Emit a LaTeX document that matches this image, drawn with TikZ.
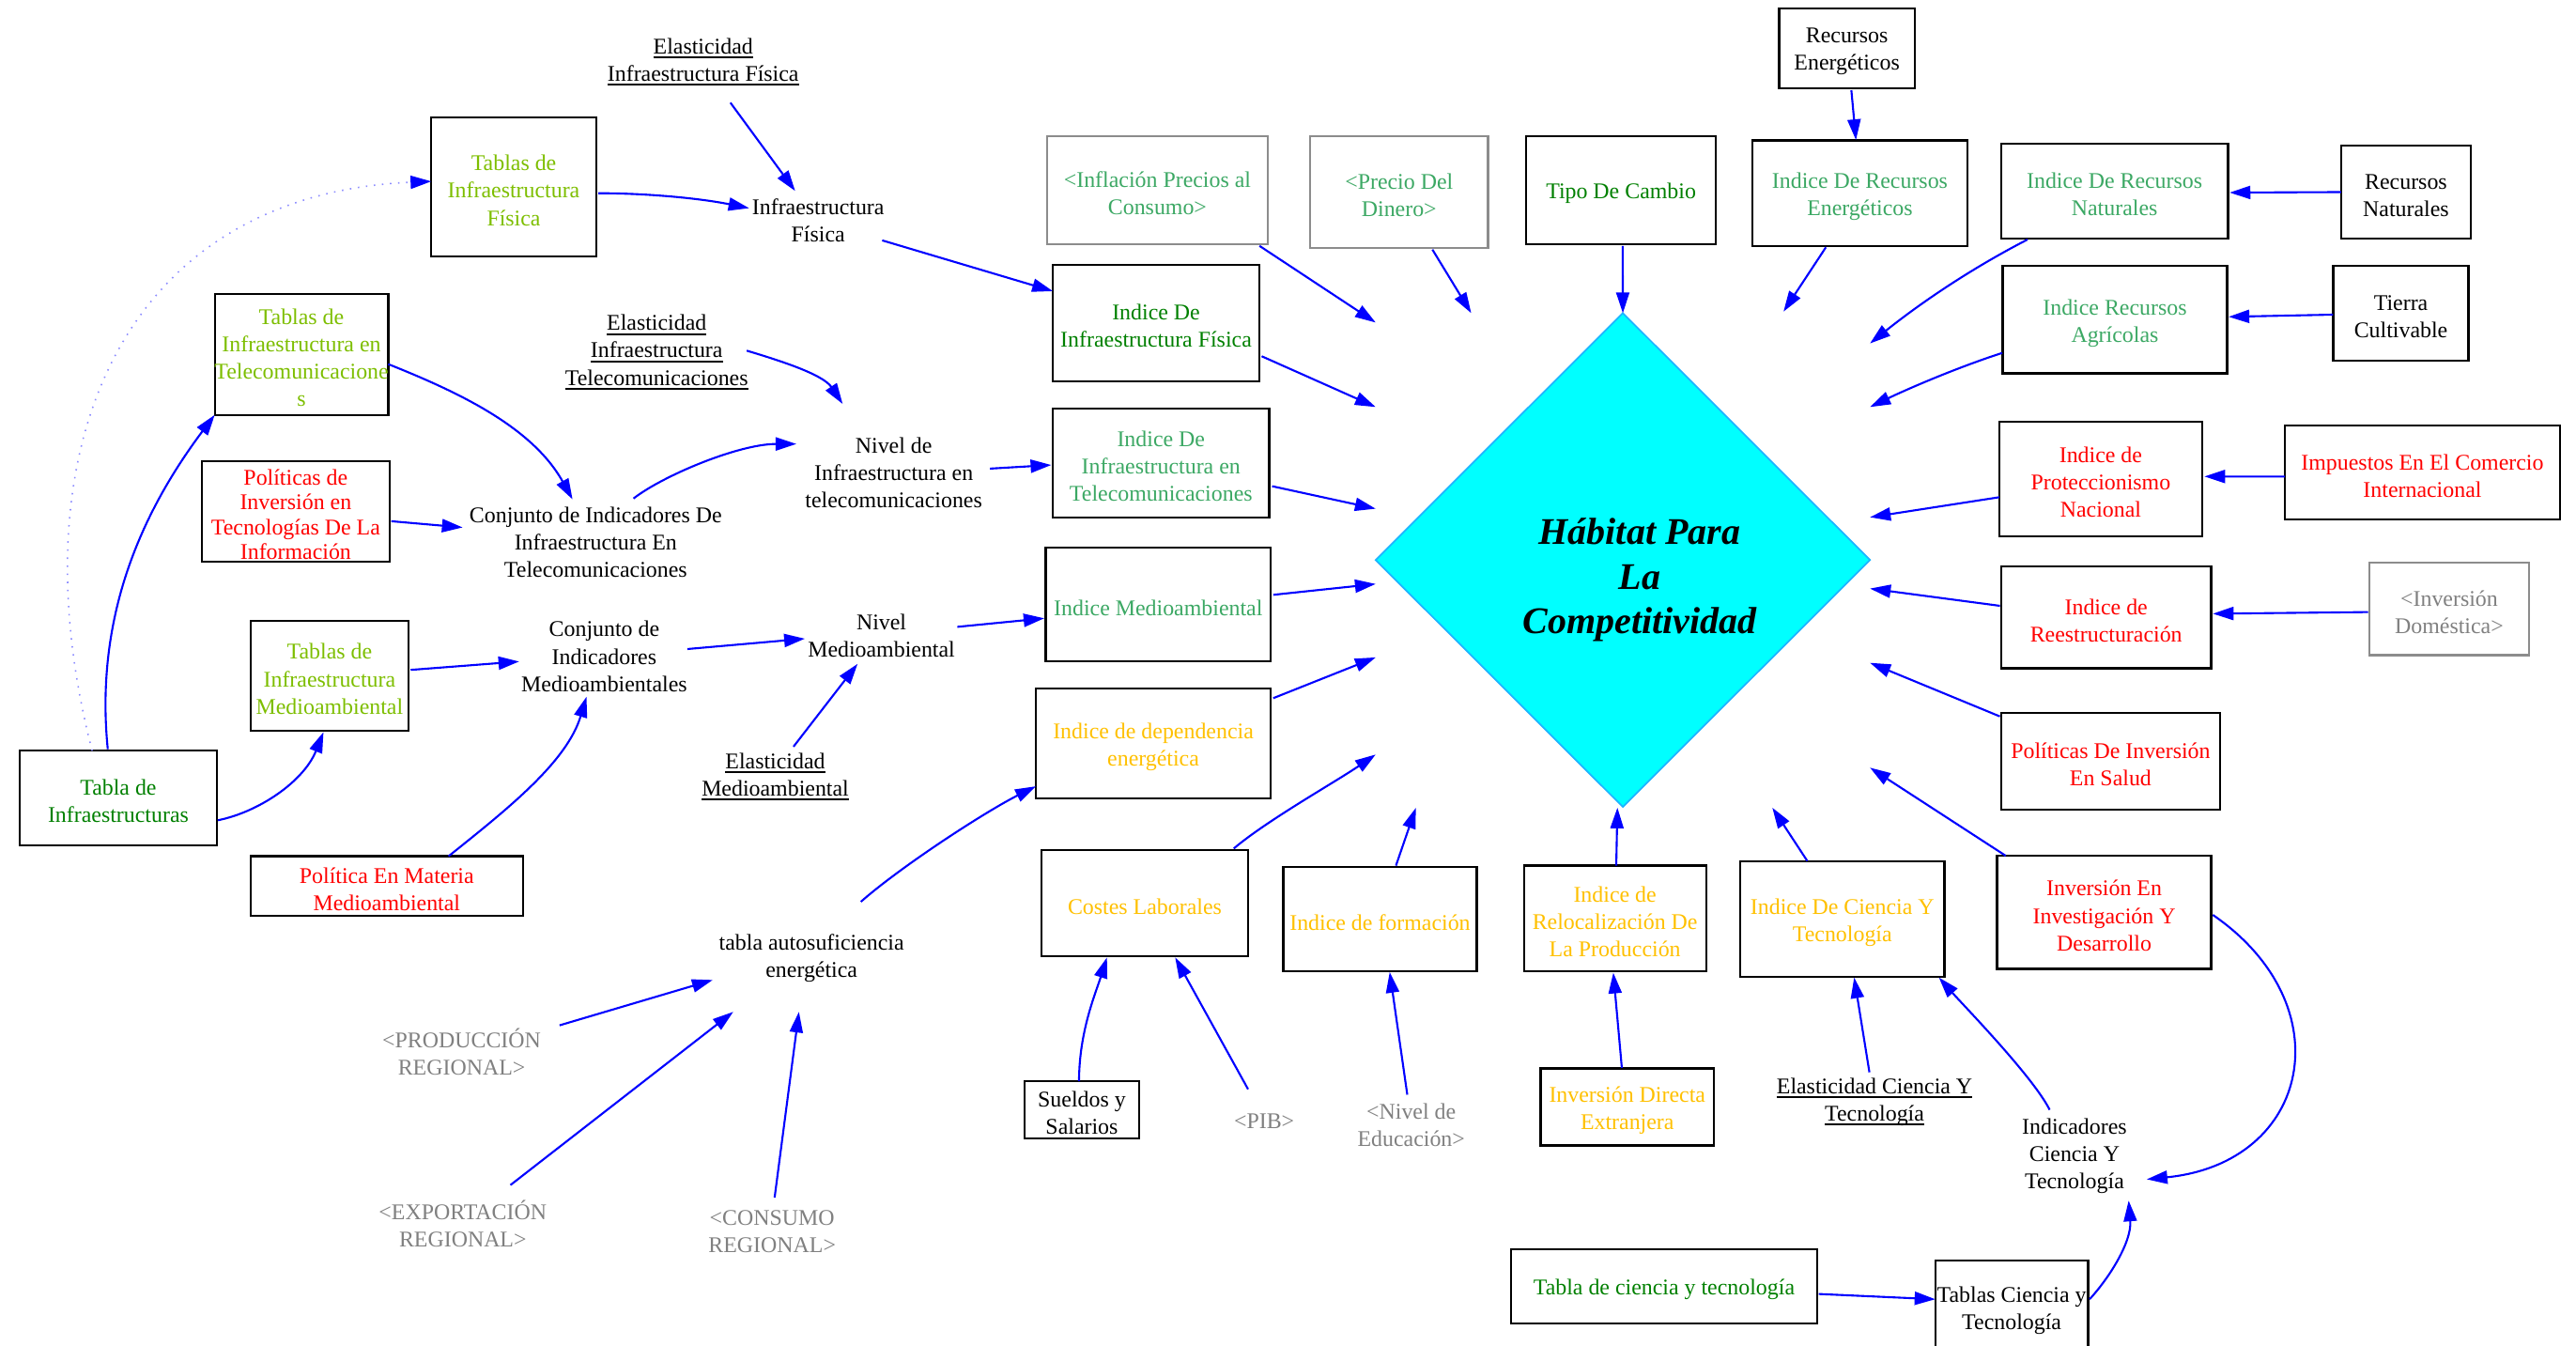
\documentclass[tikz,border=0pt]{standalone}
\usepackage{fontspec}
\setmainfont{Liberation Serif}
\usetikzlibrary{arrows.meta,shapes.geometric,calc}

\definecolor{yg}{RGB}{125,190,0}
\definecolor{dg}{RGB}{0,128,0}
\definecolor{sg}{RGB}{60,168,100}
\definecolor{gold}{RGB}{255,192,0}
\definecolor{txtgray}{RGB}{128,128,128}
\definecolor{boxgray}{RGB}{140,140,140}
\definecolor{arblue}{RGB}{0,0,255}
\definecolor{dotblue}{RGB}{140,140,255}
\definecolor{habfill}{RGB}{0,255,255}
\definecolor{habedge}{RGB}{30,180,255}

\newcommand\unitpx{0.0175cm}
% thick underline used for the elasticity labels
\newcommand\uln[1]{\setbox0\hbox{#1}\rlap{\rule[-1.4pt]{\wd0}{0.6pt}}\box0}

\tikzset{
  base/.style={font=\fontsize{6.8}{8.3}\selectfont, align=center, inner sep=0pt},
  lbl/.style={base, yshift=-0.035cm},
  bx/.style 2 args={draw, line width=0.65pt, minimum width=#1*\unitpx,
    minimum height=#2*\unitpx, inner sep=0pt, outer sep=0pt},
  gbx/.style 2 args={bx={#1}{#2}, draw=boxgray},
  ar/.style={draw=arblue, line width=0.6pt, -{Triangle[length=2.2mm,width=1.4mm]}},
  dotar/.style={draw=dotblue, line width=0.45pt, dotted,
    -{Triangle[length=2.2mm,width=1.4mm,color=arblue,fill=arblue]}},
  habshape/.style={diamond, draw=habedge, fill=habfill, line width=0.5pt,
    minimum width=300.9*\unitpx, minimum height=300.5*\unitpx,
    inner sep=0pt, outer sep=0pt},
  title/.style={font=\fontsize{11.4}{13.5}\selectfont\bfseries\itshape,
    align=center, inner sep=0pt},
}

\begin{document}
\begin{tikzpicture}[x=\unitpx, y=-\unitpx]
\useasboundingbox (0,0) rectangle (1568,819);

% ---------- central goal ----------
\node[habshape] (hab) at (987.8,340.8) {};
\node[title] (habT) at (998,353) {Hábitat Para\\La\\Competitividad};

% ---------- boxed variables ----------
\node[bx={100.4}{84.6}, label={[lbl,text=yg]center:Tablas de\\Infraestructura\\Física}] (tFis) at (312.7,113.9) {};
\node[bx={105.6}{73.4}, label={[lbl,text=yg]center:Tablas de\\Infraestructura en\\Telecomunicacione\\s}] (tTel) at (183.5,215.8) {};
\node[bx={114.3}{60.9}, label={[lbl,text=red,font=\fontsize{6.8}{7.5}\selectfont]center:Políticas de\\Inversión en\\Tecnologías De La\\Información}] (polTIC) at (180,311.2) {};
\node[bx={96.1}{66.7}, label={[lbl,text=yg]center:Tablas de\\Infraestructura\\Medioambiental}] (tMed) at (200.6,411.2) {};
\node[bx={119.8}{57.6}, label={[lbl,text=dg]center:Tabla de\\Infraestructuras}] (tInf) at (72,485.7) {};
\node[bx={165.7}{36.2}, label={[lbl,text=red]center:Política En Materia\\Medioambiental}] (polMed) at (235.4,539.2) {};

\node[gbx={134.1}{65.7}, label={[lbl,text=sg]center:<Inflación Precios al\\Consumo>}] (infl) at (704.5,115.8) {};
\node[gbx={108.4}{68}, label={[lbl,text=sg]center:<Precio Del\\Dinero>}] (precio) at (851.6,116.9) {};
\node[bx={115.4}{65.7}, label={[lbl,text=dg]center:Tipo De Cambio}] (tipo) at (986.7,115.8) {};
\node[bx={82.5}{48.6}, label={[lbl]center:Recursos\\Energéticos}] (recE) at (1124.2,29.4) {};
\node[bx={130.6}{64.2}, label={[lbl,text=sg]center:Indice De Recursos\\Energéticos}] (iRecE) at (1132.1,117.5) {};
\node[bx={138.2}{57.6}, label={[lbl,text=sg]center:Indice De Recursos\\Naturales}] (iRecN) at (1287.1,116.4) {};
\node[bx={79}{56.6}, label={[lbl]center:Recursos\\Naturales}] (recN) at (1464.5,116.9) {};
\node[bx={136.5}{65.3}, label={[lbl,text=sg]center:Indice Recursos\\Agrícolas}] (iAgr) at (1287.3,194.6) {};
\node[bx={82.4}{57.5}, label={[lbl]center:Tierra\\Cultivable}] (tierra) at (1461.4,190.7) {};

\node[bx={125.7}{70.9}, label={[lbl,text=dg]center:Indice De\\Infraestructura Física}] (iFis) at (703.7,196.5) {};
\node[bx={131.6}{66.3}, label={[lbl,text=sg]center:Indice De\\Infraestructura en\\Telecomunicaciones}] (iTel) at (706.7,281.8) {};
\node[bx={137.1}{69}, label={[lbl,text=sg]center:Indice Medioambiental}] (iMed) at (705,367.9) {};
\node[bx={143}{66.7}, label={[lbl,text=gold]center:Indice de dependencia\\energética}] (iDep) at (702,452.5) {};
\node[bx={125.7}{64.6}, label={[lbl,text=gold]center:Costes Laborales}] (costes) at (696.8,549.7) {};
\node[bx={117.8}{63.5}, label={[lbl,text=gold]center:Indice de formación}] (iForm) at (840,559.3) {};
\node[bx={110.9}{64.4}, label={[lbl,text=gold]center:Indice de\\Relocalización De\\La Producción}] (iReloc) at (983,558.9) {};
\node[bx={124.4}{70.2}, label={[lbl,text=gold]center:Indice De Ciencia Y\\Tecnología}] (iCyT) at (1121.4,559.3) {};
\node[bx={130.3}{68.8}, label={[lbl,text=red]center:Inversión En\\Investigación Y\\Desarrollo}] (invID) at (1280.8,555.3) {};

\node[bx={123.4}{69.5}, label={[lbl,text=red]center:Indice de\\Proteccionismo\\Nacional}] (iProt) at (1278.7,291.6) {};
\node[bx={167.7}{57.2}, label={[lbl,text=red]center:Impuestos En El Comercio\\Internacional}] (impu) at (1474.5,287.7) {};
\node[bx={127.9}{61.9}, label={[lbl,text=red]center:Indice de\\Reestructuración}] (iReest) at (1282,375.8) {};
\node[gbx={97.2}{56.4}, label={[lbl,text=txtgray]center:<Inversión\\Doméstica>}] (invDom) at (1490.8,370.6) {};
\node[bx={133.4}{58.6}, label={[lbl,text=red]center:Políticas De Inversión\\En Salud}] (salud) at (1284.7,463.3) {};

\node[bx={70}{34.9}, label={[lbl]center:Sueldos y\\Salarios}] (sueldos) at (658.5,675.5) {};
\node[bx={105.6}{46.9}, label={[lbl,text=gold]center:Inversión Directa\\Extranjera}] (invDir) at (990.5,673.7) {};
\node[bx={186.3}{45.3}, label={[lbl,text=dg]center:Tabla de ciencia y tecnología}] (tCyT) at (1012.9,782.8) {};
\node[bx={93}{57}, label={[lbl]center:Tablas Ciencia y\\Tecnología}] (tsCyT) at (1224.5,795.5) {};

% ---------- auxiliary variables (plain text) ----------
\node[base] (elFis) at (428,37.6) {\uln{Elasticidad}\\\uln{Infraestructura Física}};
\node[base] (infFis) at (498,134.3) {Infraestructura\\Física};
\node[base] (elTel) at (399.7,214.4) {\uln{Elasticidad}\\\uln{Infraestructura}\\\uln{Telecomunicaciones}};
\node[base] (nivTel) at (544,287.7) {Nivel de\\Infraestructura en\\telecomunicaciones};
\node[base] (conjTel) at (362.6,330) {Conjunto de Indicadores De\\Infraestructura En\\Telecomunicaciones};
\node[base] (conjMed) at (367.8,399.5) {Conjunto de\\Indicadores\\Medioambientales};
\node[base] (nivMed) at (536.5,387.1) {Nivel\\Medioambiental};
\node[base] (elMed) at (471.9,472.7) {\uln{Elasticidad}\\\uln{Medioambiental}};
\node[base] (autos) at (494,583) {tabla autosuficiencia\\energética};
\node[base,text=txtgray] (prod) at (281,640) {<PRODUCCIÓN\\REGIONAL>};
\node[base,text=txtgray] (expo) at (281.7,745) {<EXPORTACIÓN\\REGIONAL>};
\node[base,text=txtgray] (cons) at (470,749.5) {<CONSUMO\\REGIONAL>};
\node[base,text=txtgray] (pib) at (769.5,682.5) {<PIB>};
\node[base,text=txtgray] (nivEdu) at (859,684.5) {<Nivel de\\Educación>};
\node[base] (elCyT) at (1141,670.6) {\uln{Elasticidad Ciencia Y}\\\uln{Tecnología}};
\node[base] (indCyT) at (1262.7,703.6) {Indicadores\\Ciencia Y\\Tecnología};

% ---------- infrastructure block ----------
\draw[ar] ($(elFis)+(16.6,24.9)$) -- ($(infFis)+(-14,-18.1)$);
\draw[ar] ($(tFis.east)+(1.3,3.7)$) .. controls +(30,0) and +(-30,-6) .. ($(infFis)+(-42,-7.6)$);
\draw[ar] ($(infFis)+(39,12)$) -- ($(iFis.west)+(0,-19.3)$);
\draw[dotar] ($(tInf.north west)+(44,0)$) .. controls +(-48,-185) and +(-187,8) .. ($(tFis.west)+(0,-3.5)$);
\draw[ar] ($(tInf.north west)+(53.5,-1)$) .. controls +(-8,-80) and +(-45,60) .. (tTel.south west);
\draw[ar] ($(tTel.east)+(0,5.8)$) .. controls +(40,16) and +(-25,-45) .. ($(conjTel)+(-14.1,-26.1)$);
\draw[ar] ($(polTIC.east)+(1,6)$) -- ($(conjTel)+(-81,-9)$);
\draw[ar] ($(elTel)+(54.8,-1)$) .. controls +(20,6) and +(-12,-18) .. ($(nivTel)+(-31.1,-41.9)$);
\draw[ar] ($(conjTel)+(23,-26.6)$) .. controls +(18,-14) and +(-35,0) .. ($(nivTel)+(-59.3,-17.5)$);
\draw[ar] ($(nivTel)+(58.6,-2.5)$) -- ($(iTel.west)+(-1,1.2)$);
\draw[ar] ($(tMed.east)+(1.3,-3.5)$) -- ($(conjMed)+(-51.8,3.1)$);
\draw[ar] ($(conjMed)+(50.6,-4.5)$) -- ($(nivMed)+(-46.6,1.6)$);
\draw[ar] ($(elMed)+(11.1,-18.3)$) -- ($(nivMed)+(-14.5,16.9)$);
\draw[ar] ($(nivMed)+(46.2,-5.6)$) -- ($(iMed.west)+(-0.8,8.4)$);
\draw[ar] ($(tInf.east)+(0.7,13.5)$) .. controls +(25,-5) and +(-12,30) .. ($(tMed.south)+(-3.7,1)$);
\draw[ar] ($(polMed.north)+(37.6,0)$) .. controls +(35,-28) and +(-12,40) .. ($(conjMed)+(-10.8,24.5)$);

% ---------- energy self-sufficiency ----------
\draw[ar] ($(autos)+(30,-34.2)$) .. controls +(25,-22) and +(-30,15) .. ($(iDep.south west)+(0,-7.3)$);
\draw[ar] ($(prod)+(59.6,-16)$) -- ($(autos)+(-60.2,13.4)$);
\draw[ar] ($(expo)+(29,-23.8)$) -- ($(autos)+(-47.7,32.8)$);
\draw[ar] ($(cons)+(1.5,-20.7)$) -- ($(autos)+(-7.7,32.8)$);

% ---------- inputs to the goal ----------
\draw[ar] ($(infl.south east)+(-4.9,1)$) -- ($(hab.west)+(0,-144.5)$);
\draw[ar] ($(precio.south)+(20.3,1)$) -- ($(hab.north)+(-92.3,0)$);
\draw[ar] ($(tipo.south)+(1,1)$) -- (hab.north);
\draw[ar] ($(recE.south)+(2.7,1.2)$) -- ($(iRecE.north)+(-2.4,-0.2)$);
\draw[ar] ($(iRecE.south)+(-20.7,0.9)$) -- ($(hab.north)+(97.8,-0.9)$);
\draw[ar] (recN.west) -- ($(iRecN.east)+(1,0.8)$);
\draw[ar] ($(iRecN.south)+(-53,0.6)$) .. controls +(-35,18) and +(30,-24) .. ($(hab.east)+(0,-131.8)$);
\draw[ar] ($(tierra.west)+(-0.1,0.8)$) -- ($(iAgr.east)+(1,-1.8)$);
\draw[ar] ($(iAgr.west)+(-0.3,20.2)$) .. controls +(-25,8) and +(25,-12) .. ($(hab.east)+(0,-93.1)$);
\draw[ar] ($(iFis.east)+(1.4,20.3)$) -- ($(hab.west)+(0,-93.1)$);
\draw[ar] ($(iTel.east)+(1.8,14.1)$) -- ($(hab.west)+(0,-31.2)$);
\draw[ar] ($(iMed.east)+(1.5,-5.9)$) -- ($(hab.west)+(0,14.6)$);
\draw[ar] ($(iDep.east)+(1.5,-27.6)$) -- ($(hab.west)+(0,59.3)$);
\draw[ar] ($(costes.north)+(54.2,-1)$) .. controls +(20,-17) and +(-25,17) .. ($(hab.west)+(0,118.4)$);
\draw[ar] ($(sueldos.north)+(-1.7,0)$) .. controls +(0,-30) and +(-7,22) .. ($(costes.south)+(-23,0.7)$);
\draw[ar] ($(pib)+(-9.8,-19.6)$) -- ($(costes.south)+(18.5,0.7)$);
\draw[ar] ($(iForm.north)+(9.7,-0.75)$) -- ($(hab.south)+(-126,0.6)$);
\draw[ar] ($(nivEdu)+(-2.4,-18.3)$) -- ($(iForm.south)+(5.9,0.55)$);
\draw[ar] ($(iReloc.north)+(0.8,0.1)$) -- ($(hab.south)+(-3.3,0.5)$);
\draw[ar] ($(invDir.north)+(-3.3,-0.35)$) -- ($(iReloc.south)+(-1,0.9)$);
\draw[ar] ($(iCyT.north)+(-21.3,-0.2)$) -- ($(hab.south)+(91,0.5)$);
\draw[ar] ($(elCyT)+(-3.1,-18)$) -- ($(iCyT.south)+(7.2,0.5)$);
\draw[ar] ($(indCyT)+(-15.1,-28.2)$) .. controls +(-10,-20) and +(15,17) .. ($(iCyT.south east)+(-3.4,0.5)$);
\draw[ar] ($(invID.north west)+(5.2,-0.1)$) -- ($(hab.east)+(0,126.4)$);
\draw[ar] ($(invID.east)+(1,1.5)$) .. controls +(80,55) and +(100,-10) .. ($(indCyT)+(44,14.1)$);
\draw[ar] ($(tCyT.east)+(1,4.7)$) -- ($(tsCyT.west)+(0,-4.8)$);
\draw[ar] ($(tsCyT.east)+(0.9,-4.8)$) .. controls +(12,-13) and +(2,25) .. ($(indCyT)+(33,27.1)$);
\draw[ar] ($(iProt.west)+(0,11)$) -- ($(hab.east)+(0,-26)$);
\draw[ar] ($(impu.west)+(0,2.3)$) -- ($(iProt.east)+(1.4,-1.6)$);
\draw[ar] ($(iReest.west)+(-0.7,-7.1)$) -- ($(hab.east)+(0,17.4)$);
\draw[ar] ($(invDom.west)+(-0.7,1.9)$) -- ($(iReest.east)+(1,-2.3)$);
\draw[ar] ($(salud.north west)+(-0.7,2)$) -- ($(hab.east)+(0,62.6)$);
\end{tikzpicture}
\end{document}
